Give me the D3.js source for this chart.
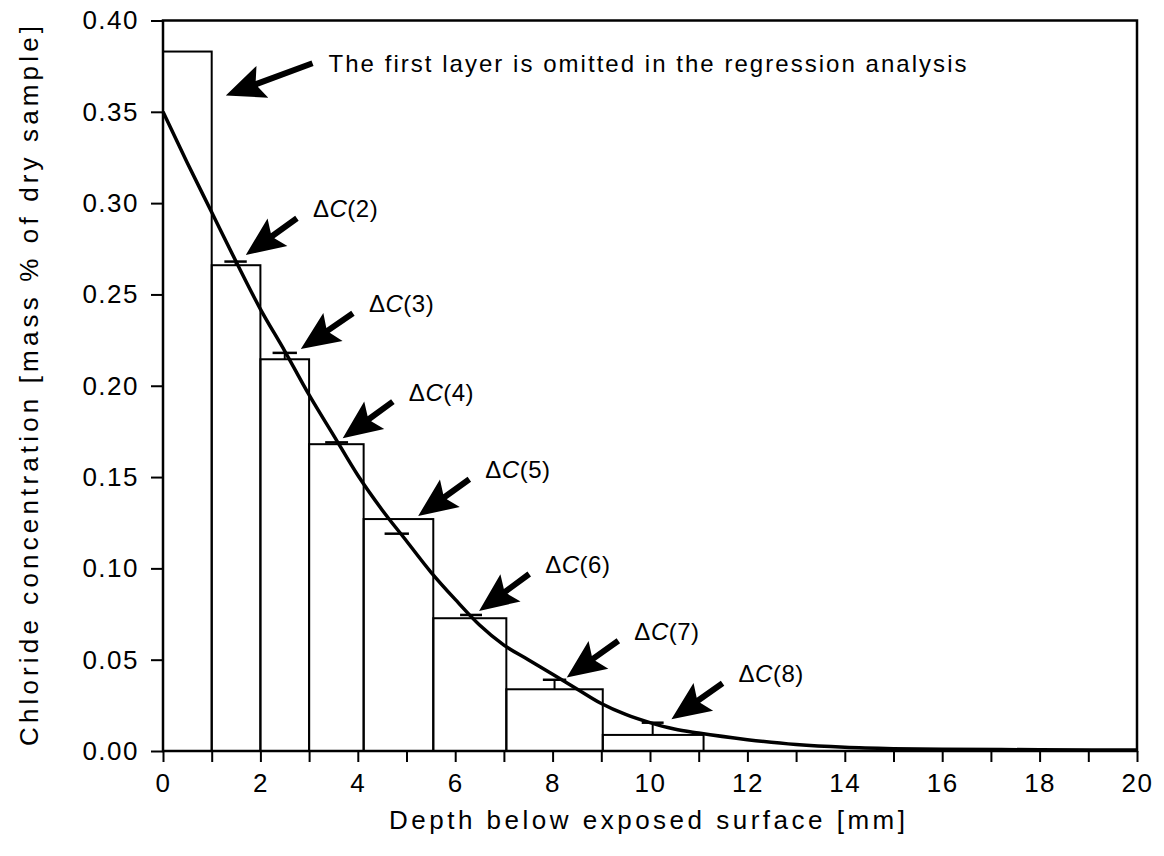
<!DOCTYPE html>
<html>
<head>
<meta charset="utf-8">
<script src="https://cdnjs.cloudflare.com/ajax/libs/d3/7.8.5/d3.min.js"></script>
<style>
  body { margin: 0; background: #fff; }
  svg { display: block; }
  text { font-family: 'Liberation Sans', Arial, sans-serif; fill: #000; }
</style>
</head>
<body>
<svg id="chart"></svg>
<script>
// layer boundaries [mm] and measured chloride content of each layer
const layerEdges = [0, 1, 2, 3, 4.12, 5.55, 7.05, 9.03, 11.1];
const layerValues = [0.383, 0.266, 0.2145, 0.168, 0.127, 0.0727, 0.0338, 0.0088];

// fitted mean over layers 2..8 (the short dashes)
const fitFrom = [1.26, 2.25, 3.33, 4.55, 6.1, 7.8, 9.83];
const fitTo = [1.72, 2.75, 3.8, 5.05, 6.55, 8.28, 10.28];
const fitValues = [0.268, 0.218, 0.169, 0.119, 0.0745, 0.039, 0.0155];

// regression curve
const curveDepth = [0, 0.5, 1, 1.5, 2, 2.5, 3, 3.5, 4, 4.5, 5, 5.5, 6, 6.5, 7, 7.5, 8, 8.5, 9, 9.5, 10, 10.5, 11, 12, 13, 14, 15, 16, 18, 20];
const curveValues = [0.35, 0.322, 0.295, 0.268, 0.242, 0.219, 0.195, 0.173, 0.151, 0.132, 0.115, 0.098, 0.083, 0.069, 0.058, 0.05, 0.042, 0.034, 0.026, 0.02, 0.0155, 0.012, 0.0098, 0.0062, 0.0035, 0.002, 0.0013, 0.001, 0.0007, 0.0005];

const xTickValues = [0, 1, 2, 3, 4, 5, 6, 7, 8, 9, 10, 11, 12, 13, 14, 15, 16, 17, 18, 19, 20];
const yTickValues = [0, 0.05, 0.1, 0.15, 0.2, 0.25, 0.3, 0.35, 0.4];

// annotation arrows (tip / tail in data units) and their labels
const arrowLabels = ['', '2', '3', '4', '5', '6', '7', '8'];
const arrowTip = [[1.29, 0.359], [1.70, 0.2716], [2.83, 0.2201], [3.69, 0.1713], [5.24, 0.1287], [6.49, 0.0767], [8.29, 0.0402], [10.44, 0.0174]];
const arrowTail = [[3.07, 0.3766], [2.75, 0.2917], [3.9, 0.2397], [4.72, 0.1913], [6.29, 0.1488], [7.52, 0.0969], [9.35, 0.0604], [11.49, 0.0371]];
const noteText = 'The first layer is omitted in the regression analysis';

var width = 1164;
var height = 856;

var svg = d3.select('#chart').attr('width', width).attr('height', height);

var x = d3.scaleLinear().domain([0, 20]).range([163, 1137]);
var y = d3.scaleLinear().domain([0, 0.4]).range([751, 20.5]);

// layers as open boxes
var bars = svg.append('g')
  .selectAll('rect')
  .data(layerValues)
  .enter()
  .append('rect')
  .attr('x', function (d, i) { return x(layerEdges[i]); })
  .attr('y', function (d) { return y(d); })
  .attr('width', function (d, i) { return x(layerEdges[i + 1]) - x(layerEdges[i]); })
  .attr('height', function (d) { return y(0) - y(d); })
  .attr('fill', 'none')
  .attr('stroke', '#000')
  .attr('stroke-width', 2);

// fitted values: dash plus a stub down to the layer top
var fits = svg.append('g').attr('stroke', '#000').attr('stroke-width', 2.5);
fitValues.forEach(function (v, i) {
  fits.append('line')
    .attr('x1', x(fitFrom[i])).attr('x2', x(fitTo[i]))
    .attr('y1', y(v)).attr('y2', y(v));
  var top = layerValues[i + 1];
  if (v > top) {
    var mid = (fitFrom[i] + fitTo[i]) / 2;
    fits.append('line')
      .attr('stroke-width', 2)
      .attr('x1', x(mid)).attr('x2', x(mid))
      .attr('y1', y(v)).attr('y2', y(top));
  }
});

// regression curve
var line = d3.line()
  .x(function (d, i) { return x(curveDepth[i]); })
  .y(function (d) { return y(d); })
  .curve(d3.curveMonotoneX);

svg.append('path')
  .datum(curveValues)
  .attr('d', line)
  .attr('fill', 'none')
  .attr('stroke', '#000')
  .attr('stroke-width', 3.5);

// frame
svg.append('rect')
  .attr('x', x(0)).attr('y', y(0.4))
  .attr('width', x(20) - x(0)).attr('height', y(0) - y(0.4))
  .attr('fill', 'none')
  .attr('stroke', '#000')
  .attr('stroke-width', 2.5);

// axes
var xAxis = svg.append('g')
  .attr('transform', 'translate(0,' + y(0) + ')')
  .call(d3.axisBottom(x)
    .tickValues(xTickValues)
    .tickSize(11)
    .tickPadding(12)
    .tickFormat(function (d) { return d % 2 === 0 ? d : ''; }));

var yAxis = svg.append('g')
  .attr('transform', 'translate(' + x(0) + ',0)')
  .call(d3.axisLeft(y)
    .tickValues(yTickValues)
    .tickSize(12)
    .tickPadding(12)
    .tickFormat(d3.format('.2f')));

[xAxis, yAxis].forEach(function (ax) {
  ax.select('.domain').remove();
  ax.selectAll('line').attr('stroke', '#000').attr('stroke-width', 2);
  ax.selectAll('text')
    .style('font-size', '26px')
    .style('letter-spacing', '1.5px')
    .style('font-family', "'Liberation Sans', Arial, sans-serif");
});
xAxis.selectAll('text').attr('dy', '0.71em');

// axis titles
svg.append('text')
  .attr('x', 647)
  .attr('y', 829)
  .attr('text-anchor', 'middle')
  .attr('textLength', 516)
  .attr('lengthAdjust', 'spacing')
  .style('font-size', '26px')
  .text('Depth below exposed surface [mm]');

svg.append('text')
  .attr('transform', 'translate(38,386) rotate(-90)')
  .attr('text-anchor', 'middle')
  .attr('textLength', 720)
  .attr('lengthAdjust', 'spacing')
  .style('font-size', '26px')
  .text('Chloride concentration [mass % of dry sample]');

// arrows with notched triangular heads
function arrowPath(t, s) {
  var tx = x(t[0]), ty = y(t[1]);
  var sx = x(s[0]), sy = y(s[1]);
  var len = Math.hypot(sx - tx, sy - ty);
  var ux = (sx - tx) / len, uy = (sy - ty) / len;
  var nx = -uy, ny = ux;
  var L = 39, W = 17, notch = 6, w = 3;
  function p(a, b) { return (tx + ux * a + nx * b) + ',' + (ty + uy * a + ny * b); }
  return 'M' + p(0, 0) +
    'L' + p(L, W) +
    'L' + p(L - notch, w) +
    'L' + p(len, w) +
    'L' + p(len, -w) +
    'L' + p(L - notch, -w) +
    'L' + p(L, -W) + 'Z';
}

var notes = svg.append('g');
arrowTip.forEach(function (t, i) {
  notes.append('path')
    .attr('d', arrowPath(t, arrowTail[i]))
    .attr('fill', '#000');

  var tx = x(arrowTail[i][0]) + 16;
  var ty = y(arrowTail[i][1]) - 1;
  if (i === 0) {
    notes.append('text')
      .attr('x', tx)
      .attr('y', ty + 10)
      .attr('textLength', 638)
      .attr('lengthAdjust', 'spacing')
      .style('font-size', '24px')
      .text(noteText);
  } else {
    var lbl = notes.append('text')
      .attr('x', tx)
      .attr('y', ty)
      .style('font-size', '24px')
      .style('letter-spacing', '0.5px');
    lbl.append('tspan').text('\u0394');
    lbl.append('tspan').style('font-style', 'italic').text('C');
    lbl.append('tspan').text('(' + arrowLabels[i] + ')');
  }
});
</script>
</body>
</html>
